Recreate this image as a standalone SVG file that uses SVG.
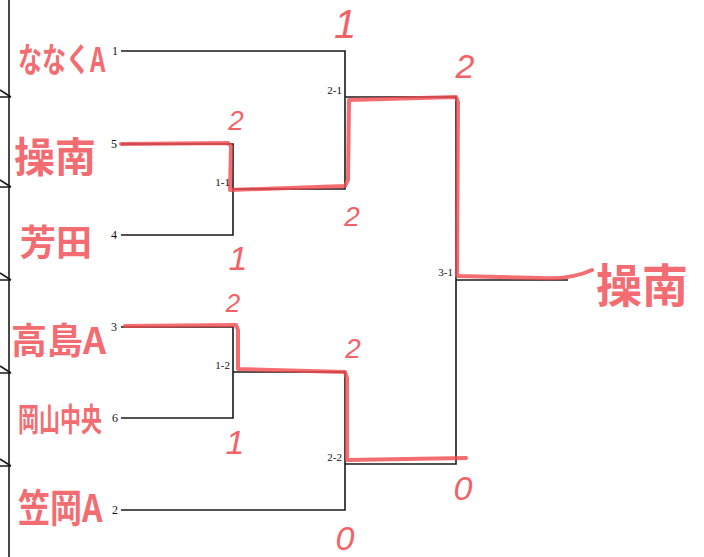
<svg xmlns="http://www.w3.org/2000/svg" width="704" height="557" viewBox="0 0 704 557">
<style>
.ln{fill:none;stroke:#1a1a1a;stroke-width:1.6}
.hl{fill:none;stroke:#f0484e;stroke-width:4;stroke-linecap:round;stroke-linejoin:round;opacity:0.8}
.nm{font-family:"Noto Sans CJK JP","Noto Sans CJK SC",sans-serif;font-weight:700;fill:#f0484e;opacity:0.8}
.sc{font-family:"Liberation Sans",sans-serif;font-style:italic;fill:#f0484e;opacity:0.85;text-anchor:middle}
.sd{font-family:"Liberation Serif",serif;font-size:12px;fill:#111}
.rd{font-family:"Liberation Serif",serif;font-size:11px;fill:#111;text-anchor:end}
</style>
<rect width="704" height="557" fill="#ffffff"/>
<g id="border" class="ln">
<path d="M9,0 V557"/>
<path d="M0,97 H11 M0,90 L11,97"/>
<path d="M0,187 H11 M0,180 L11,187"/>
<path d="M0,280 H11 M0,273 L11,280"/>
<path d="M0,373 H11 M0,366 L11,373"/>
<path d="M0,466 H11 M0,459 L11,466"/>
</g>
<g id="connectors">
<path class="ln" d="M121,51 H345 V189 H233"/>
<path class="ln" d="M121,144 H233 V235 H121"/>
<path class="ln" d="M345,97 H456 V464 H345"/>
<path class="ln" d="M121,327 H233 V418 H121"/>
<path class="ln" d="M233,372 H345 V510 H121"/>
<path class="ln" d="M456,280 H568"/>
<path class="hl" d="M121,144 L228,143 L231,146 L230,190 L345,186 L348,180 L349,100 L456,97 L458,102 L457,276 L540,278 Q570,280 592,270"/>
<path class="hl" d="M125,326 L236,325 L238,330 L238,369 L345,372 L347,378 L347,460 L466,458"/>
</g>
<g id="team-nanaku">
<text class="nm" transform="translate(18,72) scale(1,1.4)" font-size="24">ななくA</text>
<text class="sd" x="112" y="55">1</text>
</g>
<g id="team-sonan">
<text class="nm" x="14" y="172" font-size="41">操南</text>
<text class="sd" x="111" y="148">5</text>
</g>
<g id="team-haga">
<text class="nm" x="20" y="256" font-size="36">芳田</text>
<text class="sd" x="111" y="239">4</text>
</g>
<g id="team-takashima">
<text class="nm" x="11" y="354" font-size="36">高島A</text>
<text class="sd" x="111" y="331">3</text>
</g>
<g id="team-okayama">
<text class="nm" transform="translate(18,431) scale(1,1.5)" font-size="21">岡山中央</text>
<text class="sd" x="112" y="422">6</text>
</g>
<g id="team-kasaoka">
<text class="nm" transform="translate(18,522) scale(1,1.2)" font-size="32">笠岡A</text>
<text class="sd" x="112" y="514">2</text>
</g>
<g id="match-1-1"><text class="rd" x="230" y="186">1-1</text></g>
<g id="match-2-1"><text class="rd" x="342" y="94">2-1</text></g>
<g id="match-1-2"><text class="rd" x="230" y="369">1-2</text></g>
<g id="match-2-2"><text class="rd" x="342" y="461">2-2</text></g>
<g id="match-3-1"><text class="rd" x="453" y="276">3-1</text></g>
<g id="winner">
<text class="nm" x="596" y="302" font-size="46">操南</text>
</g>
<g id="scores">
<text class="sc" x="345" y="38" font-size="40">1</text>
<text class="sc" x="465" y="78" font-size="34">2</text>
<text class="sc" x="236" y="130" font-size="28">2</text>
<text class="sc" x="352" y="226" font-size="28">2</text>
<text class="sc" x="238" y="270" font-size="34">1</text>
<text class="sc" x="233" y="312" font-size="26">2</text>
<text class="sc" x="353" y="358" font-size="28">2</text>
<text class="sc" x="235" y="454" font-size="34">1</text>
<text class="sc" x="463" y="500" font-size="34">0</text>
<text class="sc" x="345" y="550" font-size="34">0</text>
</g>
</svg>
